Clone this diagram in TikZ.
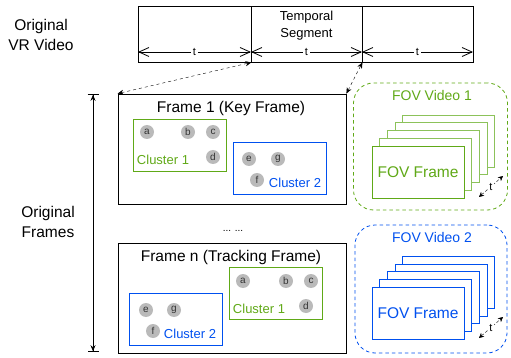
\documentclass[tikz,border=0pt]{standalone}
\usepackage{fontspec}
\setmainfont{Liberation Sans}
\usetikzlibrary{arrows.meta}
\definecolor{grn}{HTML}{60A917}
\definecolor{grnlt}{HTML}{8CC25A}
\definecolor{blu}{HTML}{0050EF}
\tikzset{
  >/.tip={Stealth[length=6pt,width=5pt]},
  seg/.style={draw, thick, minimum width=111pt, minimum height=56pt, inner sep=0pt},
  frm/.style={draw, thick, minimum width=228pt, minimum height=110pt},
  clu/.style={draw, minimum width=93pt, minimum height=52pt},
  pt/.style={circle, fill=black!27, minimum size=14pt, inner sep=0pt, font=\fontsize{10}{10}\selectfont, text=black!80},
  fovbox/.style={draw, line width=0.8pt, dash pattern=on 3.5pt off 3pt, rounded corners=20pt, minimum width=154pt, minimum height=127pt},
  fovfrm/.style={draw, thick, fill=white, minimum width=92pt, minimum height=52pt},
  dim/.style={{Straight Barb[length=10pt,width=9pt]}-{Straight Barb[length=10pt,width=9pt]}, line width=0.8pt},
  span/.style={{Bar[width=11pt]>}-{>Bar[width=11pt]}, thick},
  link/.style={<->, dashed},
  tarr/.style={<->, densely dashed, >={Stealth[length=5pt,width=5pt]}},
  tlab/.style={fill=white, inner sep=1.5pt, font=\fontsize{11}{11}\selectfont},
  big/.style={font=\fontsize{15.5}{20}\selectfont, align=center},
}

\begin{document}
\begin{tikzpicture}[x=1pt, y=-1pt]
\useasboundingbox (0,0) rectangle (511,358);
% original video bar
\node[big] (vrlab) at (41,35) {Original\\VR Video};
\node[seg, minimum width=113pt] (seg1) at (194.5,34) {};
\node[seg] (seg2) at (306.5,34) {};
\node[seg] (seg3) at (417.5,34) {};
\node[font=\fontsize{13}{17}\selectfont, align=center] (tseg) at (306.5,26) {Temporal\\Segment};
\coordinate (b0) at (138,52);
\coordinate (b1) at (251,52);
\coordinate (b2) at (362,52);
\coordinate (b3) at (473,52);
\draw[dim] (b0) -- node[tlab] {t} (b1);
\draw[dim] (b1) -- node[tlab] {t} (b2);
\draw[dim] (b2) -- node[tlab] {t} (b3);

% original frames
\node[big] (frlab) at (48,222) {Original\\Frames};
\coordinate (ftop) at (93,94);
\coordinate (fbot) at (93,352);
\draw[span] (ftop) -- (fbot);

% frame 1
\node[frm] (frame1) at (232,149) {};
\node[big] (f1title) at (231,108) {Frame 1 (Key Frame)};
\node[clu, draw=grn] (c11) at (179.5,145) {};
\node[clu, draw=blu] (c12) at (279.5,168) {};
\node[pt] (a1) at (147,132) {a};
\node[pt] (b1p) at (188,132) {b};
\node[pt] (c1) at (213,132) {c};
\node[pt] (d1) at (213,157) {d};
\node[pt] (e1) at (249,159) {e};
\node[pt] (g1) at (278,159) {g};
\node[pt] (f1) at (257,180) {f};
\node[text=grn, font=\fontsize{13}{13}\selectfont] (l11) at (163,160) {Cluster 1};
\node[text=blu, font=\fontsize{13}{13}\selectfont] (l12) at (295,183) {Cluster 2};

\node[font=\fontsize{10}{10}\selectfont] (dots) at (233,231) {... ...};

% frame n
\node[frm, minimum height=110pt] (framen) at (232,298) {};
\node[big] (fntitle) at (231,257) {Frame n (Tracking Frame)};
\node[clu, draw=grn] (c21) at (275.5,293.5) {};
\node[clu, draw=blu] (c22) at (175.5,319) {};
\node[pt] (a2) at (243,281) {a};
\node[pt] (b2p) at (286,281) {b};
\node[pt] (c2) at (311,281) {c};
\node[pt] (d2) at (306,306) {d};
\node[pt] (e2) at (146,310) {e};
\node[pt] (g2) at (174,310) {g};
\node[pt] (f2) at (153,331) {f};
\node[text=grn, font=\fontsize{13}{13}\selectfont] (l21) at (259,309) {Cluster 1};
\node[text=blu, font=\fontsize{13}{13}\selectfont] (l22) at (190,334) {Cluster 2};

\draw[link] (frame1.north west) -- (seg1.south east);
\draw[link] (frame1.north east) -- (seg2.south east);

% fov videos
\node[fovbox, draw=grn] (fov1) at (430.5,146.5) {};
\node[text=grn, font=\fontsize{14}{14}\selectfont] (fov1lab) at (432,95) {FOV Video 1};
\foreach \k in {4,3,2,1}{
  \node[fovfrm, draw=grnlt] (ffa\k) at ({418+7.7*\k},{172-7.7*\k}) {};
}
\node[fovfrm, draw=grn, text=grn, font=\fontsize{15.5}{15.5}\selectfont] (ffa0) at (418,172) {FOV Frame};
\coordinate (ta0) at (479,197);
\coordinate (ta1) at (503,176);
\draw[tarr] (ta0) -- node[tlab] {t} (ta1);

\node[fovbox, draw=blu, minimum width=152pt, minimum height=128pt] (fov2) at (431,289) {};
\node[text=blu, font=\fontsize{14}{14}\selectfont] (fov2lab) at (432,237) {FOV Video 2};
\foreach \k in {4,3,2,1}{
  \node[fovfrm, draw=blu] (ffb\k) at ({418+7.7*\k},{313-7.7*\k}) {};
}
\node[fovfrm, draw=blu, text=blu, font=\fontsize{15.5}{15.5}\selectfont] (ffb0) at (418,313) {FOV Frame};
\coordinate (tb0) at (479,338);
\coordinate (tb1) at (503,317);
\draw[tarr] (tb0) -- node[tlab] {t} (tb1);
\end{tikzpicture}
\end{document}
